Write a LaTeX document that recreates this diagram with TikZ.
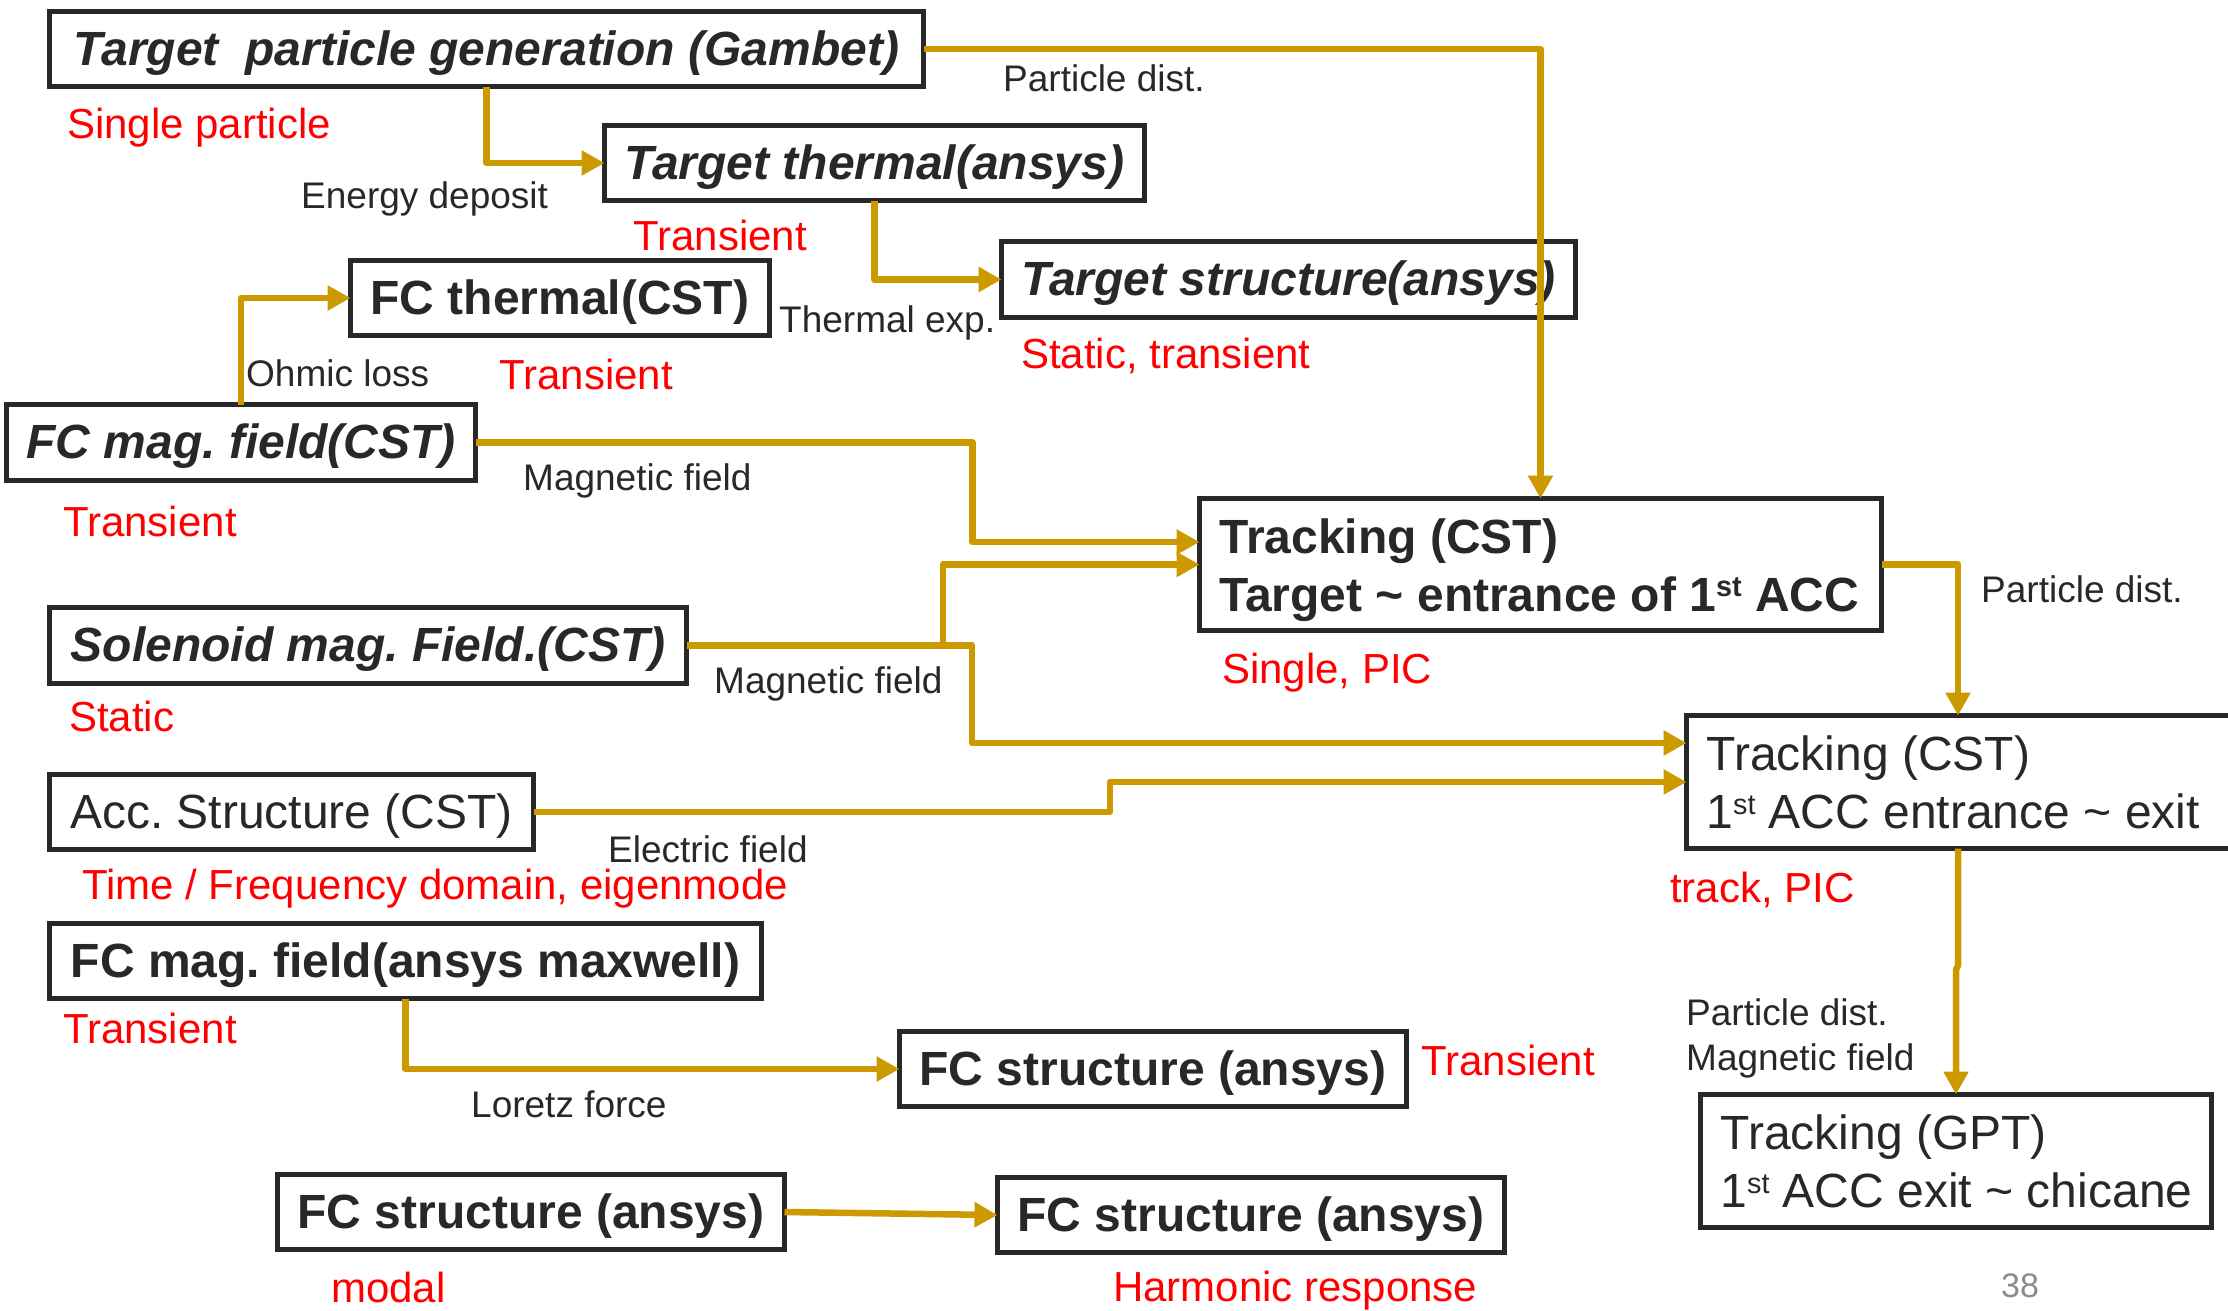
\documentclass[tikz,border=0pt]{standalone}
\usepackage{fontspec}
\setmainfont{Liberation Sans}
\usepackage{graphicx}
\usetikzlibrary{arrows.meta}
\frenchspacing

\definecolor{ink}{RGB}{40,40,40}
\definecolor{gold}{RGB}{204,153,0}
\definecolor{labred}{RGB}{255,0,0}
\definecolor{pagegray}{RGB}{140,140,140}

% ordinal suffix, raised and reduced
\newcommand\ordsup[1]{\raisebox{0.3em}{\scalebox{0.6}{#1}}}
% two stacked lines, baseline on the first one
\newcommand\twolines[2]{\vtop{\hbox{#1}\hbox{#2}}}

\begin{document}
\begin{tikzpicture}[x=1pt,y=-1pt,
  box/.style={draw=ink, line width=5pt, line join=miter, text=ink, anchor=north west,
    inner xsep=20pt, inner ysep=0pt, outer sep=0pt,
    text height=40pt, text depth=8pt, minimum height=75pt},
  dbox/.style={box, text depth=63pt, minimum height=132pt},
  title/.style={font=\fontsize{48}{58}\selectfont\bfseries},
  titleit/.style={font=\fontsize{48}{58}\selectfont\bfseries\itshape},
  rmtitle/.style={font=\fontsize{48}{58}\selectfont},
  conn/.style={draw=gold, line width=6.5pt, line join=round,
    -{Triangle[length=23pt,width=24pt]}},
  redlab/.style={text=labred, font=\fontsize{42}{50}\selectfont, anchor=base west, inner sep=0pt},
  blab/.style={text=ink, font=\fontsize{37}{44}\selectfont, anchor=base west, inner sep=0pt},
  pagenum/.style={text=pagegray, font=\fontsize{34}{40}\selectfont, anchor=base west, inner sep=0pt}]

\clip (0,0) rectangle (2228,1310);
\fill[white] (0,0) rectangle (2228,1310);

% simulation steps
\node[box, titleit, minimum width=874pt] (gambet) at (49.5,11.5) {Target\ \ particle generation (Gambet)};
\node[box, titleit, minimum width=539pt] (tthermal) at (604.5,125.5) {Target thermal(ansys)};
\node[box, title, minimum width=416pt] (fcthermal) at (350.5,260.5) {FC thermal(CST)};
\node[box, titleit, minimum width=572pt, minimum height=76pt] (tstruct) at (1001.5,241.5) {Target structure(ansys)};
\node[box, titleit, minimum width=467pt, minimum height=76pt] (fcmag) at (6.5,404.5) {FC mag. field(CST)};
\node[box, titleit, minimum width=637pt, minimum height=76pt] (solenoid) at (49.5,607.5) {Solenoid mag. Field.(CST)};
\node[box, rmtitle, minimum width=484pt] (acc) at (49.5,774.5) {Acc. Structure (CST)};
\node[box, title, minimum width=712pt] (fcmaxwell) at (49.5,923.5) {FC mag. field(ansys maxwell)};
\node[box, title, minimum width=506pt] (fcstructA) at (899.5,1031.5) {FC structure (ansys)};
\node[box, title, minimum width=507pt] (fcmodal) at (277.5,1174.5) {FC structure (ansys)};
\node[box, title, minimum width=507pt] (fcharm) at (997.5,1177.5) {FC structure (ansys)};
\node[dbox, title, minimum width=682pt] (track1) at (1199.5,498.5)
  {\makebox[642pt][l]{\twolines{Tracking (CST)}{Target \textasciitilde{} entrance of 1\ordsup{st} ACC}}};
\node[dbox, rmtitle, minimum width=600pt, minimum height=133pt] (track2) at (1686.5,715.5)
  {\makebox[560pt][l]{\twolines{Tracking (CST)}{1\ordsup{st} ACC entrance \textasciitilde{} exit}}};
\node[dbox, rmtitle, minimum width=511pt, minimum height=133pt] (gpt) at (1700.5,1094.5)
  {\makebox[471pt][l]{\twolines{Tracking (GPT)}{1\ordsup{st} ACC exit \textasciitilde{} chicane}}};

% annotations
\node[redlab] (l1) at (67,138) {Single particle};
\node[blab] (l2) at (301,208) {Energy deposit};
\node[redlab] (l3) at (633,250) {Transient};
\node[blab] (l4) at (779,332) {Thermal exp.};
\node[blab] (l5) at (246,386) {Ohmic loss};
\node[redlab] (l6) at (499,389) {Transient};
\node[blab] (l7) at (1003,91) {Particle dist.};
\node[redlab] (l8) at (1021,368) {Static, transient};
\node[blab] (l9) at (523,490) {Magnetic field};
\node[redlab] (l10) at (63,536) {Transient};
\node[blab] (l11) at (714,693) {Magnetic field};
\node[redlab] (l12) at (69,731) {Static};
\node[blab] (l13) at (608,862) {Electric field};
\node[redlab] (l14) at (82,899) {Time / Frequency domain, eigenmode};
\node[blab] (l15) at (1981,602) {Particle dist.};
\node[redlab] (l16) at (1222,683) {Single, PIC};
\node[redlab] (l17) at (1670,902) {track, PIC};
\node[redlab] (l18) at (63,1043) {Transient};
\node[blab] (l19) at (471,1117) {Loretz force};
\node[redlab] (l20) at (1421,1075) {Transient};
\node[blab] (l21) at (1686,1025) {Particle dist.};
\node[blab] (l22) at (1686,1070) {Magnetic field};
\node[redlab] (l23) at (331,1302) {modal};
\node[redlab] (l24) at (1113,1301) {Harmonic response};
\node[pagenum] (pg) at (2001,1297) {38};

% data flow
\draw[conn] (gambet.east) -| (track1.north);
\draw[conn] (gambet.south) |- (tthermal.west);
\draw[conn] (tthermal.south) |- (tstruct.west);
\draw[conn] (fcmag.north) |- (fcthermal.west);
\draw[conn] (fcmag.east) -- ++(496.5,0) |- ([yshift=22.5pt]track1.west);
\draw[conn] (solenoid.east) -- ++(285.5,0) |- ([yshift=39pt]track2.west);
\draw[conn] ([xshift=256.5pt]solenoid.east) |- (track1.west);
\draw[conn] (acc.east) -- ++(576.5,0) |- (track2.west);
\draw[conn] (track1.east) -| ([xshift=271.5pt]track2.north west);
\draw[conn] ([xshift=271.5pt]track2.south west) -- ++(0,117) -- ++(-2,4) -- (gpt.north);
\draw[conn] (fcmaxwell.south) |- (fcstructA.west);
\draw[conn] (fcmodal.east) -- (fcharm.west);
\end{tikzpicture}
\end{document}
